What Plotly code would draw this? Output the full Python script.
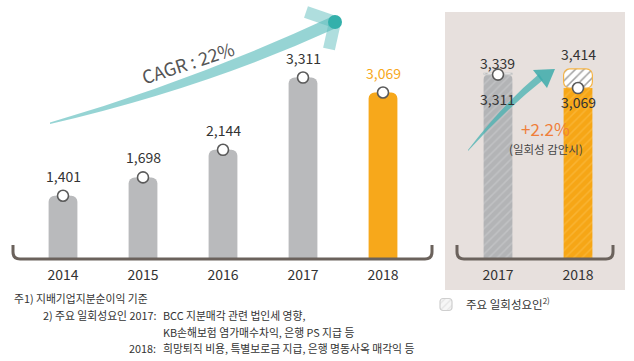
import plotly.graph_objects as go

# ---------------- data ----------------
years = ["2014", "2015", "2016", "2017", "2018"]
net_income = [1401, 1698, 2144, 3311, 3069]
cmp_years = ["2017", "2018"]
cmp_reported = [3311, 3069]
cmp_adjusted = [3339, 3414]
one_off = [a - r for a, r in zip(cmp_adjusted, cmp_reported)]
cagr_text = "CAGR : 22%"
growth_text = "+2.2%"
growth_note = "(일회성 감안시)"
legend_name = "주요 일회성요인<sup>2)</sup>"
footnotes = [
    "주1) 지배기업지분순이익 기준",
    "2) 주요 일회성요인 2017:",
    "BCC 지분매각 관련 법인세 영향,",
    "KB손해보험 염가매수차익, 은행 PS 지급 등",
    "2018:",
    "희망퇴직 비용, 특별보로금 지급, 은행 명동사옥 매각익 등",
]

W, H = 634, 361
FONT = "Noto Sans CJK KR"
GRAY = "#b9babc"
ORANGE = "#f7a81b"
TXT = "#333333"
AXC = "#6b625c"


def px(x):
    return x / W


def py(y):
    return 1 - y / H


fig = go.Figure()

# left main bars
fig.add_trace(go.Bar(
    x=years, y=net_income, width=0.36,
    marker=dict(color=[GRAY] * 4 + [ORANGE], cornerradius=6, line_width=0),
    xaxis="x", yaxis="y", showlegend=False, hoverinfo="skip"))
fig.add_trace(go.Scatter(
    x=years, y=net_income, mode="markers", cliponaxis=False,
    marker=dict(size=11, color="white", line=dict(color="#5a5a5a", width=1.6)),
    xaxis="x", yaxis="y", showlegend=False, hoverinfo="skip"))

# right comparison bars
fig.add_trace(go.Bar(
    x=[cmp_years[0]], y=[cmp_reported[0]], width=0.36,
    marker=dict(color="#b7b8ba", cornerradius=6, line_width=0,
                pattern=dict(shape="/", fgcolor="#cfd0d2", bgcolor="#b3b4b6",
                             size=6, solidity=0.25)),
    xaxis="x2", yaxis="y2", showlegend=False, hoverinfo="skip"))
fig.add_trace(go.Bar(
    x=[cmp_years[1]], y=[cmp_reported[1]], width=0.36,
    marker=dict(color=ORANGE, line_width=0,
                pattern=dict(shape="/", fgcolor="#fbc14e", bgcolor="#f6a616",
                             size=6, solidity=0.25)),
    xaxis="x2", yaxis="y2", showlegend=False, hoverinfo="skip"))
fig.add_trace(go.Bar(
    x=cmp_years, y=one_off, base=cmp_reported, width=0.36,
    name=legend_name,
    marker=dict(color=["#f4f4f4", "#ffffff"], cornerradius=6,
                line=dict(color=["#cfcfcf", "#f5b446"], width=1.2),
                pattern=dict(shape="/", fgcolor=["#d0d0d0", "#f0dcc0"],
                             bgcolor=["#f6f6f6", "#ffffff"], size=6, solidity=0.25)),
    xaxis="x2", yaxis="y2", showlegend=True, hoverinfo="skip"))
fig.add_trace(go.Scatter(
    x=cmp_years, y=cmp_reported, mode="markers", cliponaxis=False,
    marker=dict(size=11, color="white", line=dict(color="#5a5a5a", width=1.6)),
    xaxis="x2", yaxis="y2", showlegend=False, hoverinfo="skip"))

# ---------------- annotations ----------------
ann = []
for i, v in enumerate(net_income):
    ann.append(dict(x=i, y=v, xref="x", yref="y", text=f"{v:,}", showarrow=False,
                    yshift=20, font=dict(size=14, color=ORANGE if i == 4 else TXT)))
# right panel labels
ann.append(dict(x=0, y=cmp_adjusted[0], xref="x2", yref="y2",
                text=f"{cmp_adjusted[0]:,}", showarrow=False, yshift=10,
                font=dict(size=14, color=TXT)))
ann.append(dict(x=0, y=cmp_reported[0], xref="x2", yref="y2",
                text=f"{cmp_reported[0]:,}", showarrow=False, yshift=-24,
                font=dict(size=14, color=TXT)))
ann.append(dict(x=1, y=cmp_adjusted[1], xref="x2", yref="y2",
                text=f"{cmp_adjusted[1]:,}", showarrow=False, yshift=15,
                font=dict(size=14, color=TXT)))
ann.append(dict(x=1, y=cmp_reported[1], xref="x2", yref="y2",
                text=f"{cmp_reported[1]:,}", showarrow=False, yshift=-14,
                font=dict(size=14, color=TXT)))


def note(x, y, text, size, color=TXT, xanchor="center", angle=0):
    return dict(x=px(x), y=py(y), xref="paper", yref="paper", text=text,
                xanchor=xanchor, yanchor="middle", showarrow=False, textangle=angle,
                font=dict(size=size, color=color))


ann.append(note(545, 129, growth_text, 17, "#ef7f3a"))
ann.append(note(546, 149, growth_note, 11.5, "#444444"))
ann.append(note(188, 62, cagr_text, 18, "#555555", angle=-18))

# footnotes
FS = 10.8
ann.append(note(12, 298, footnotes[0], FS, xanchor="left"))
ann.append(note(158, 315, footnotes[1], FS, xanchor="right"))
ann.append(note(161, 315, footnotes[2], FS, xanchor="left"))
ann.append(note(161, 332, footnotes[3], FS, xanchor="left"))
ann.append(note(158, 348, footnotes[4], FS, xanchor="right"))
ann.append(note(161, 348, footnotes[5], FS, xanchor="left"))


# ---------------- decorative shapes (pixel -> paper) ----------------
def path(points_cmds):
    out = []
    for c in points_cmds:
        if isinstance(c, str):
            out.append(c)
        else:
            out.append(f"{px(c[0]):.5f},{py(c[1]):.5f}")
    return " ".join(out)


shapes = []
# comparison panel background
shapes.append(dict(type="rect", xref="paper", yref="paper", layer="below",
                   x0=px(445), x1=px(625), y0=py(290), y1=py(12),
                   fillcolor="#e7e0dd", line_width=0))
# axis brackets
shapes.append(dict(type="path", xref="paper", yref="paper", layer="above",
                   path=path(["M", (13, 245), "L", (13, 252), "Q", (13, 259), (20, 259),
                              "L", (425, 259), "Q", (432, 259), (432, 252), "L", (432, 245)]),
                   line=dict(color=AXC, width=3)))
shapes.append(dict(type="path", xref="paper", yref="paper", layer="above",
                   path=path(["M", (457, 245), "L", (457, 252), "Q", (457, 259), (464, 259),
                              "L", (606, 259), "Q", (613, 259), (613, 252), "L", (613, 245)]),
                   line=dict(color=AXC, width=3)))
# CAGR arrow body
shapes.append(dict(type="path", xref="paper", yref="paper", layer="below",
                   path=path(["M", (50, 124), "Q", (205, 88), (334, 29), "L", (331, 17),
                              "Q", (195, 80), (50, 122.5), "Z"]),
                   fillcolor="rgba(110,196,196,0.72)", line_width=0))
shapes.append(dict(type="line", xref="paper", yref="paper",
                   x0=px(306), y0=py(12), x1=px(335), y1=py(22),
                   line=dict(color="rgba(95,190,190,0.5)", width=12)))
shapes.append(dict(type="line", xref="paper", yref="paper",
                   x0=px(335), y0=py(22), x1=px(329), y1=py(49),
                   line=dict(color="rgba(95,190,190,0.5)", width=12)))
shapes.append(dict(type="circle", xref="paper", yref="paper",
                   x0=px(328), x1=px(342), y0=py(29), y1=py(15),
                   fillcolor="#33b0ab", line_width=0))
# small growth arrow in the panel
shapes.append(dict(type="path", xref="paper", yref="paper", layer="above",
                   path=path(["M", (468, 151), "Q", (505, 110), (543, 80), "L", (539, 74),
                              "Q", (503, 104), (468, 150), "Z"]),
                   fillcolor="rgba(80,180,180,0.8)", line_width=0))
shapes.append(dict(type="path", xref="paper", yref="paper", layer="above",
                   path=path(["M", (533, 70), "L", (555, 69), "L", (547, 88), "Z"]),
                   fillcolor="rgba(60,170,170,0.85)", line_width=0))

fig.update_layout(
    width=W, height=H,
    margin=dict(l=0, r=0, t=0, b=0),
    paper_bgcolor="white", plot_bgcolor="rgba(0,0,0,0)",
    barmode="overlay",
    font=dict(family=FONT, color=TXT),
    xaxis=dict(type="category", domain=[px(23), px(423)], range=[-0.5, 4.5],
               showgrid=False, zeroline=False,
               showline=False, ticks="", tickfont=dict(size=14, color=TXT), anchor="y",
               ticklabelstandoff=6, fixedrange=True),
    yaxis=dict(domain=[py(259), 1], range=[380, 380 + 259 / 0.0619], visible=False,
               fixedrange=True),
    xaxis2=dict(type="category", domain=[px(458), px(618)], range=[-0.5, 1.5],
                showgrid=False, zeroline=False,
                showline=False, ticks="", tickfont=dict(size=14, color=TXT), anchor="y2",
                ticklabelstandoff=6, fixedrange=True),
    yaxis2=dict(domain=[py(259), 1], range=[0, 259 / 0.0557], visible=False,
                anchor="x2", fixedrange=True),
    showlegend=True,
    legend=dict(x=px(426), y=py(290), xanchor="left", yanchor="top",
                bgcolor="rgba(0,0,0,0)", font=dict(size=11.5, color=TXT),
                itemwidth=30),
    annotations=ann, shapes=shapes,
)

fig.write_html("out.html", config={"displayModeBar": False},
               post_script="document.body.style.margin='0';")
